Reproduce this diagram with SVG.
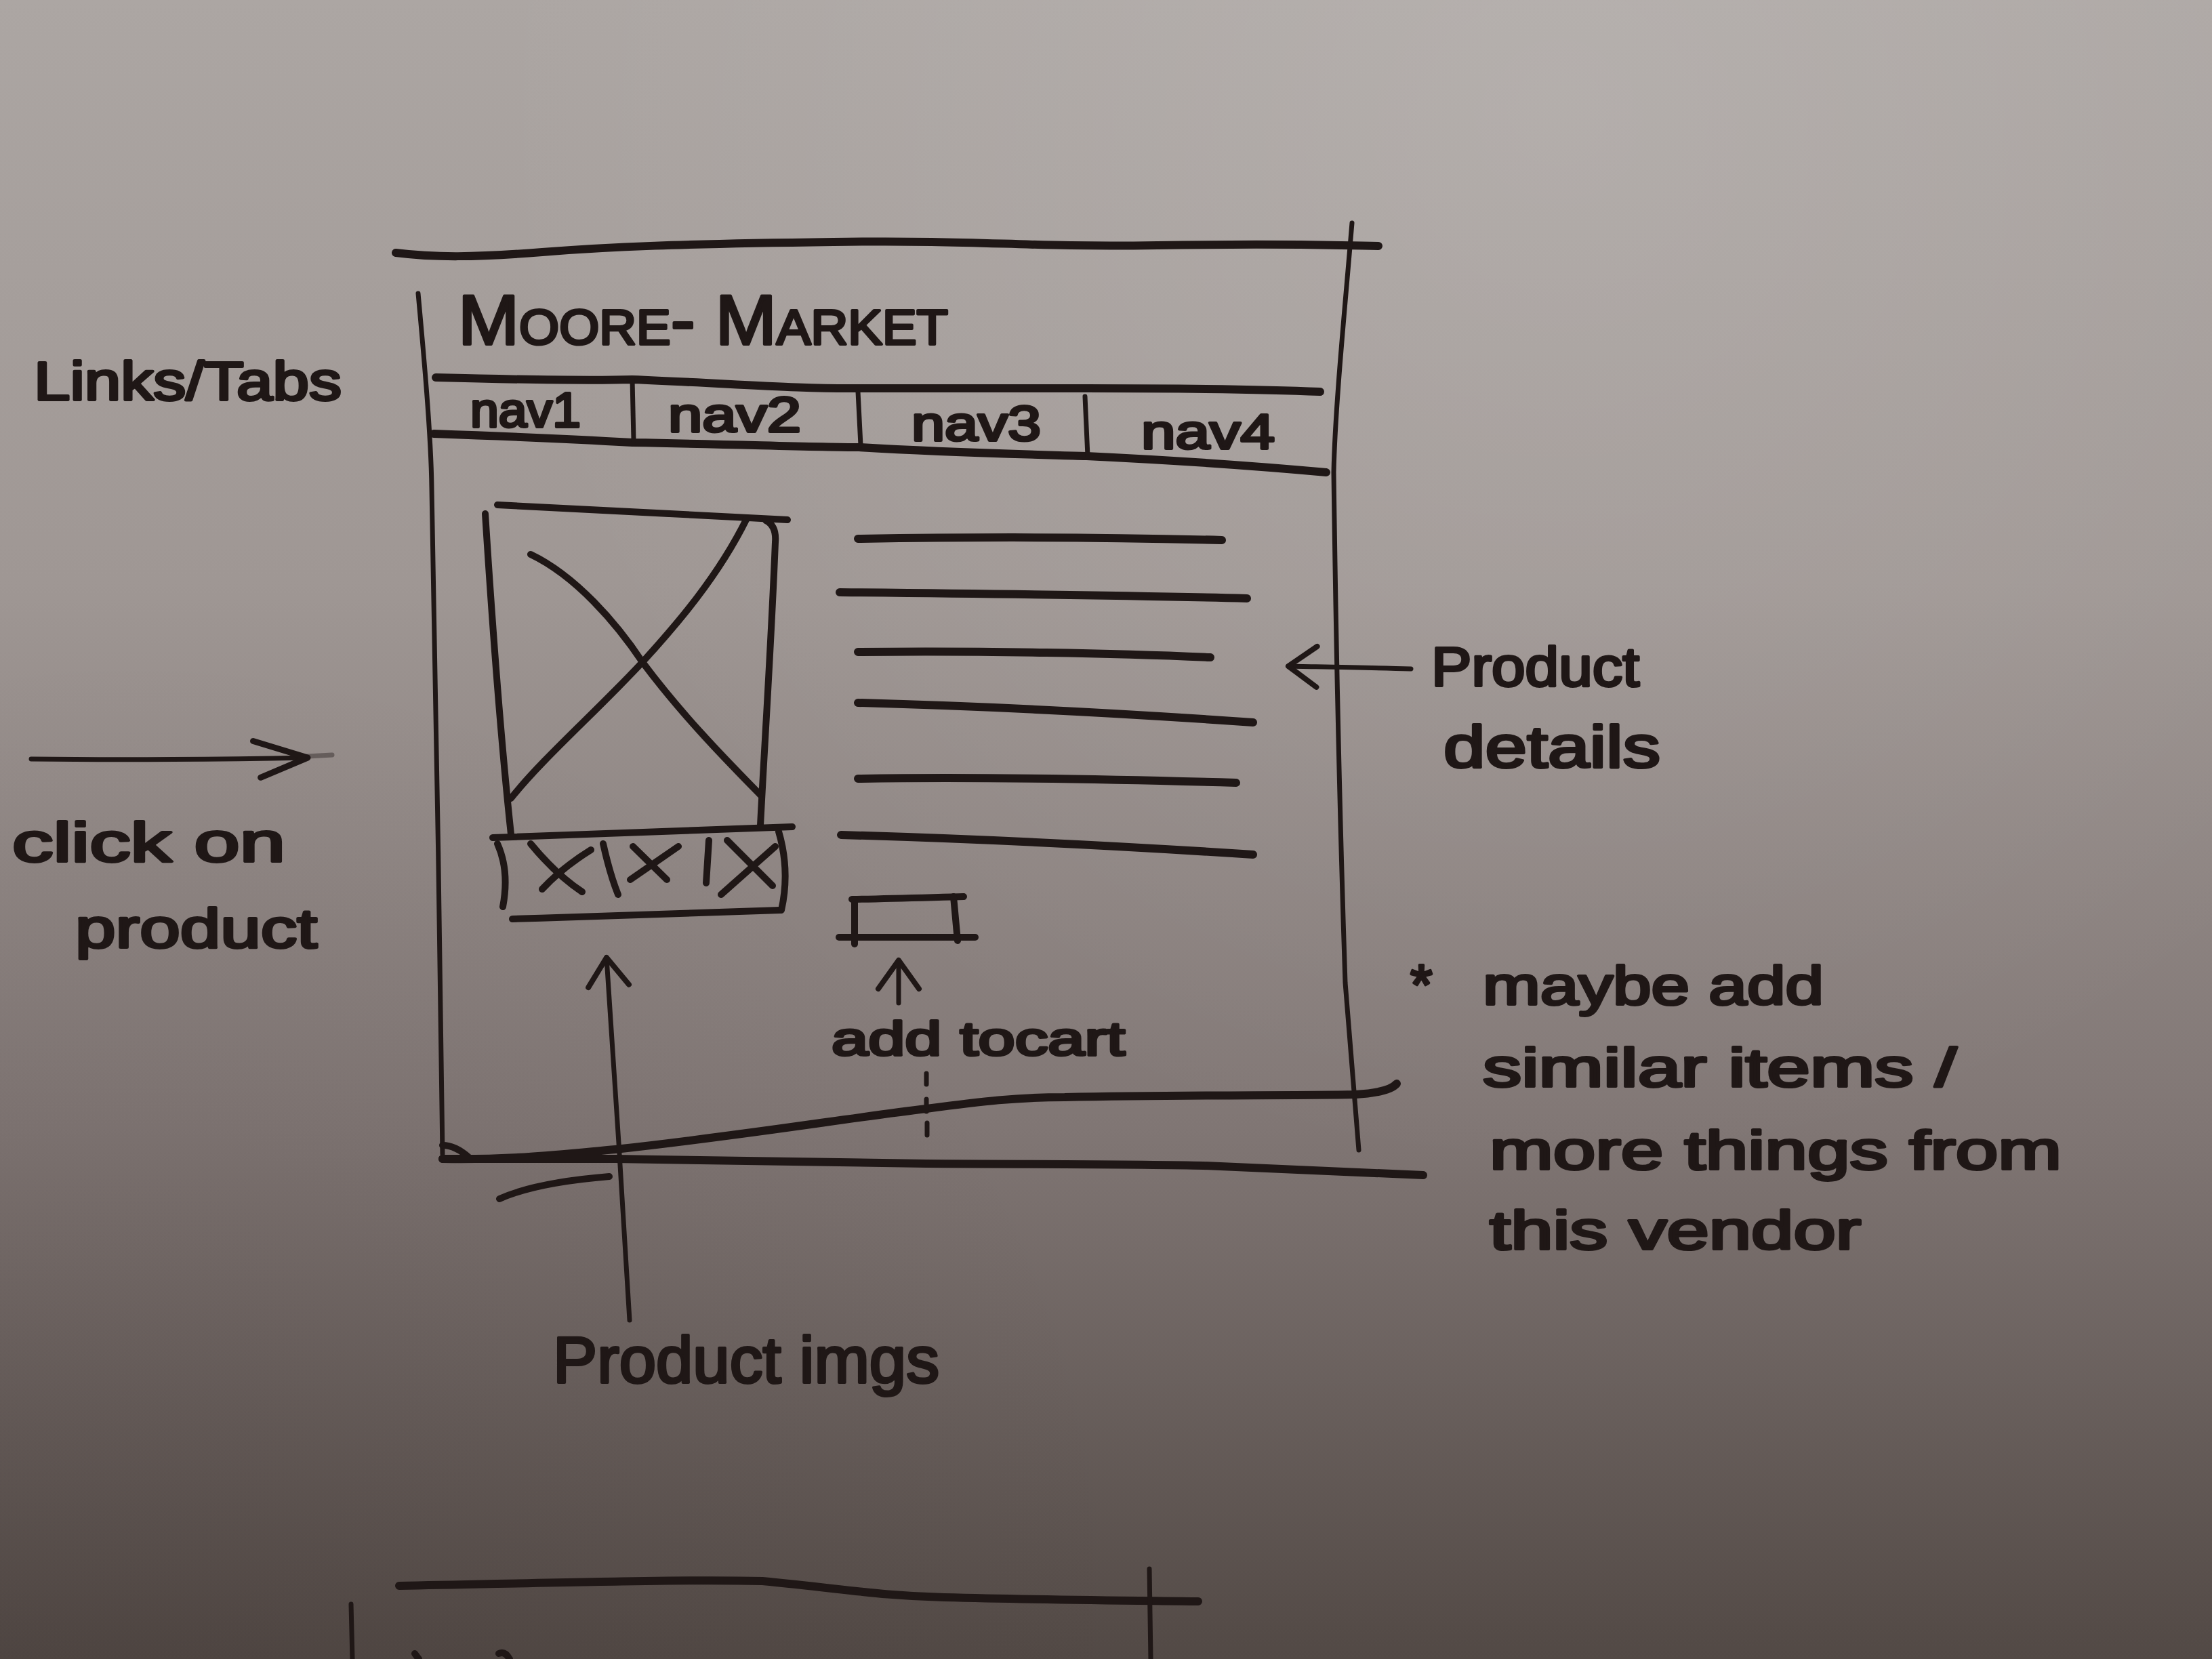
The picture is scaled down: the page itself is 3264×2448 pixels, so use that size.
<svg xmlns="http://www.w3.org/2000/svg" width="3264" height="2448" viewBox="0 0 3264 2448">
  <defs>
    <linearGradient id="paper" x1="0" y1="0" x2="0" y2="1">
      <stop offset="0" stop-color="#aca6a3"/>
      <stop offset="0.35" stop-color="#9f9794"/>
      <stop offset="0.68" stop-color="#807674"/>
      <stop offset="1" stop-color="#524945"/>
    </linearGradient>
    <radialGradient id="glow" cx="2300" cy="150" r="1600" gradientUnits="userSpaceOnUse">
      <stop offset="0" stop-color="#ffffff" stop-opacity="0.12"/>
      <stop offset="1" stop-color="#ffffff" stop-opacity="0"/>
    </radialGradient>
    <radialGradient id="shade" cx="200" cy="2448" r="1500" gradientUnits="userSpaceOnUse">
      <stop offset="0" stop-color="#2a2020" stop-opacity="0.12"/>
      <stop offset="1" stop-color="#2a2020" stop-opacity="0"/>
    </radialGradient>
    <marker id="head" markerWidth="120" markerHeight="120" viewBox="-60 -60 120 120" refX="0" refY="0" orient="auto" markerUnits="userSpaceOnUse">
      <path d="M-42,-30 L0,0 L-42,30" fill="none" stroke="#1f1716" stroke-width="8" stroke-linecap="round" stroke-linejoin="round"/>
    </marker>
    <marker id="head-long" markerWidth="160" markerHeight="120" viewBox="-100 -60 160 120" refX="0" refY="0" orient="auto" markerUnits="userSpaceOnUse">
      <path d="M-80,-26 L0,0 L-70,28" fill="none" stroke="#1f1716" stroke-width="9" stroke-linecap="round" stroke-linejoin="round"/>
    </marker>
  </defs>
  <style>
    .ink { fill: none; stroke: #1f1716; stroke-linecap: round; stroke-linejoin: round; }
    .thick { stroke-width: 12; }
    .mid { stroke-width: 10; }
    .thin { stroke-width: 7; }
    .hand { font-family: "Liberation Sans", "DejaVu Sans", sans-serif; fill: #1f1716; stroke: #1f1716; stroke-width: 4; stroke-linejoin: round; }
  </style>

  <!-- paper -->
  <rect width="3264" height="2448" fill="url(#paper)"/>
  <rect width="3264" height="2448" fill="url(#glow)"/>
  <rect width="3264" height="2448" fill="url(#shade)"/>

  <!-- browser window frame -->
  <g id="page-frame">
    <path class="ink thick" d="M584,373 C640,380 700,380 800,372 S1000,360 1230,357 S1500,365 1708,362 S1950,362 2034,363"/>
    <path class="ink thin" d="M1995,329 C1985,450 1970,600 1968,697 C1972,1000 1980,1300 1985,1450 L2005,1697"/>
    <path class="ink thin" d="M617,433 C625,520 636,640 637,720 C642,1000 650,1400 653,1703"/>
    <path class="ink mid" d="M653,1690 Q672,1690 692,1708"/>
  </g>

  <!-- site title -->
  <g id="header">
    <text class="hand" x="676" y="508" font-size="104" font-variant="small-caps" textLength="723" lengthAdjust="spacingAndGlyphs">Moore- Market</text>
  </g>

  <!-- navigation tabs -->
  <g id="nav-bar">
    <path class="ink thick" d="M643,557 C760,560 860,562 933,560 C1080,566 1180,574 1268,573 C1400,573 1500,573 1603,573 C1750,573 1880,575 1948,578"/>
    <path class="ink thick" d="M640,640 C780,645 880,650 933,653 C1100,656 1200,660 1268,660 C1400,668 1500,670 1603,673 C1750,680 1880,690 1957,697"/>
    <path class="ink thin" d="M933,560 L935,650"/>
    <path class="ink thin" d="M1266,578 L1270,657"/>
    <path class="ink thin" d="M1601,585 L1605,673"/>
    <g id="nav1"><text class="hand" x="694" y="630" font-size="72" textLength="163" lengthAdjust="spacingAndGlyphs">nav1</text></g>
    <g id="nav2"><text class="hand" x="986" y="637" font-size="72" textLength="196" lengthAdjust="spacingAndGlyphs">nav2</text></g>
    <g id="nav3"><text class="hand" x="1345" y="650" font-size="72" textLength="191" lengthAdjust="spacingAndGlyphs">nav3</text></g>
    <g id="nav4"><text class="hand" x="1684" y="662" font-size="72" textLength="197" lengthAdjust="spacingAndGlyphs">nav4</text></g>
  </g>

  <!-- main product image placeholder -->
  <g id="product-image">
    <path class="ink mid" d="M734,745 C850,752 1000,760 1162,767"/>
    <path class="ink mid" d="M716,758 C725,900 740,1100 754,1231"/>
    <path class="ink mid" d="M1130,768 Q1146,776 1144,800 C1138,950 1128,1100 1122,1218"/>
    <path class="ink mid" d="M783,818 C850,850 910,920 948,977 C1010,1060 1080,1130 1122,1173"/>
    <path class="ink mid" d="M1102,765 C1060,850 1000,920 948,977 C880,1050 800,1120 754,1178"/>
  </g>

  <!-- thumbnail strip -->
  <g id="thumbnails">
    <path class="ink mid" d="M727,1236 C850,1232 1000,1226 1169,1220"/>
    <path class="ink mid" d="M756,1356 C880,1352 1000,1348 1151,1343"/>
    <path class="ink mid" d="M734,1245 Q752,1285 742,1338"/>
    <path class="ink mid" d="M1149,1227 Q1166,1285 1153,1343"/>
    <path class="ink mid" d="M783,1245 Q820,1290 859,1316 M872,1254 Q830,1280 800,1312"/>
    <path class="ink mid" d="M890,1245 Q900,1290 912,1320"/>
    <path class="ink mid" d="M934,1249 L984,1298 M1001,1249 L930,1298"/>
    <path class="ink mid" d="M1046,1240 L1042,1303"/>
    <path class="ink mid" d="M1073,1240 L1140,1307 M1144,1249 L1064,1320"/>
  </g>

  <!-- product detail text lines -->
  <g id="details">
    <path class="ink thick" d="M1266,795 C1450,792 1650,793 1803,797"/>
    <path class="ink thick" d="M1239,874 C1450,876 1650,878 1840,883"/>
    <path class="ink thick" d="M1266,962 C1450,960 1650,964 1786,970"/>
    <path class="ink thick" d="M1266,1037 C1450,1042 1650,1052 1849,1066"/>
    <path class="ink thick" d="M1266,1149 C1450,1146 1650,1150 1824,1155"/>
    <path class="ink thick" d="M1241,1232 C1450,1238 1650,1248 1849,1261"/>
  </g>

  <!-- add to cart button -->
  <g id="cart-button">
    <path class="ink mid" d="M1257,1327 C1320,1326 1380,1324 1422,1323"/>
    <path class="ink mid" d="M1238,1383 C1320,1383 1400,1383 1439,1383"/>
    <path class="ink mid" d="M1261,1327 L1261,1393"/>
    <path class="ink mid" d="M1407,1323 L1413,1388"/>
  </g>

  <!-- page bottom / fold -->
  <g id="page-bottom">
    <path class="ink thick" d="M653,1710 C760,1712 840,1702 908,1696 C1100,1675 1250,1650 1367,1636 C1450,1625 1500,1619 1571,1619 C1750,1615 1900,1617 2000,1615 Q2050,1612 2061,1599"/>
    <path class="ink thick" d="M653,1710 C760,1710 840,1710 908,1710 C1100,1714 1250,1716 1367,1717 C1550,1718 1700,1718 1776,1720 C1900,1725 2000,1730 2100,1734"/>
    <path class="ink mid" d="M737,1769 Q790,1745 899,1736"/>
    <path class="ink thin" d="M1367,1584 L1367,1600 M1367,1622 L1367,1640 M1368,1657 L1368,1675"/>
  </g>

  <!-- annotation arrows -->
  <g id="connectors">
    <path class="ink thin" d="M46,1120 C200,1122 350,1120 454,1118" marker-end="url(#head-long)"/>
    <path class="ink thin" d="M454,1116 L490,1114" stroke-opacity="0.4"/>
    <path class="ink thin" d="M2082,987 C2020,985 1950,984 1901,983" marker-end="url(#head)"/>
    <path class="ink thin" d="M1326,1480 L1326,1417" marker-end="url(#head)"/>
    <path class="ink thin" d="M929,1948 C920,1800 905,1550 895,1413" marker-end="url(#head)"/>
  </g>

  <!-- side notes -->
  <g id="label-links-tabs">
    <text class="hand" x="50" y="590" font-size="80" textLength="454" lengthAdjust="spacingAndGlyphs">Links/Tabs</text>
  </g>
  <g id="label-click-on-product">
    <text class="hand" x="18" y="1271" font-size="82" textLength="403" lengthAdjust="spacingAndGlyphs">click on</text>
    <text class="hand" x="111" y="1398" font-size="82" textLength="357" lengthAdjust="spacingAndGlyphs">product</text>
  </g>
  <g id="label-product-details">
    <text class="hand" x="2112" y="1012" font-size="82" textLength="307" lengthAdjust="spacingAndGlyphs">Product</text>
    <text class="hand" x="2130" y="1132" font-size="88" textLength="320" lengthAdjust="spacingAndGlyphs">details</text>
  </g>
  <g id="label-add-to-cart">
    <text class="hand" x="1227" y="1557" font-size="70" textLength="433" lengthAdjust="spacingAndGlyphs">add tocart</text>
  </g>
  <g id="label-product-imgs">
    <text class="hand" x="816" y="2040" font-size="96" textLength="570" lengthAdjust="spacingAndGlyphs">Product imgs</text>
  </g>
  <g id="label-similar-items">
    <text class="hand" x="2081" y="1482" font-size="84">*</text>
    <text class="hand" x="2188" y="1482" font-size="80" textLength="503" lengthAdjust="spacingAndGlyphs">maybe add</text>
    <text class="hand" x="2188" y="1603" font-size="80" textLength="699" lengthAdjust="spacingAndGlyphs">similar items /</text>
    <text class="hand" x="2198" y="1725" font-size="80" textLength="844" lengthAdjust="spacingAndGlyphs">more things from</text>
    <text class="hand" x="2198" y="1843" font-size="80" textLength="548" lengthAdjust="spacingAndGlyphs">this vendor</text>
  </g>

  <!-- next sketch frame, partly off the page -->
  <g id="next-frame">
    <path class="ink thick" d="M589,2340 C800,2336 1000,2330 1125,2333 C1250,2345 1300,2355 1393,2357 C1550,2361 1700,2362 1768,2363"/>
    <path class="ink thin" d="M1696,2315 L1698,2448"/>
    <path class="ink thin" d="M518,2367 L520,2448"/>
    <path class="ink mid" d="M612,2440 L618,2448 M736,2440 Q745,2436 752,2448"/>
  </g>
</svg>
